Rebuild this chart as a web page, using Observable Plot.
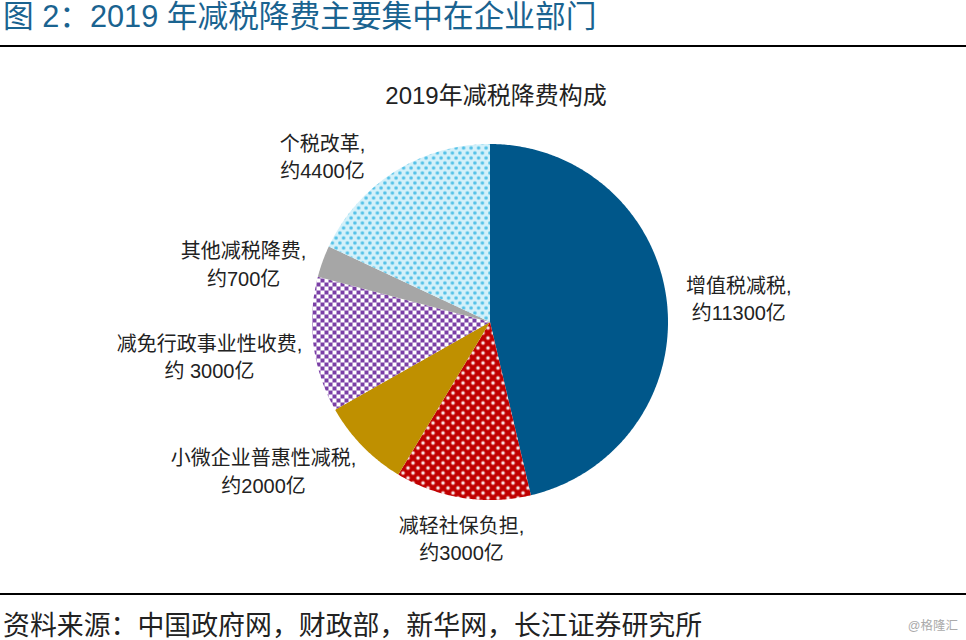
<!DOCTYPE html>
<html lang="zh">
<head>
<meta charset="utf-8">
<script src="https://cdn.jsdelivr.net/npm/d3@7"></script>
<script src="https://cdn.jsdelivr.net/npm/@observablehq/plot@0.6"></script>
<style>
  html, body { margin: 0; padding: 0; background: #fff; width: 966px; height: 640px; overflow: hidden; }
  body { font-family: "Liberation Sans", "Noto Sans CJK SC", sans-serif; position: relative; }
  #head { height: 45px; border-bottom: 2px solid #000; font-size: 30.7px; line-height: 34px; color: #1a6390; padding-left: 3px; white-space: pre; }
  #sub { height: 63px; line-height: 97px; font-size: 24px; color: #222; text-align: center; padding-left: 26px; box-sizing: border-box; width: 966px; }
  #chart { height: 483px; }
  #chart svg { display: block; }
  #foot { border-top: 2px solid #000; height: 45px; position: relative; }
  #src { position: absolute; left: 3px; top: 15px; font-size: 26.9px; line-height: 32px; color: #222; white-space: pre; }
  #wm { position: absolute; right: 8px; top: 23px; font-size: 12.5px; line-height: 16px; color: #aaa; }
</style>
</head>
<body>
<div id="head">图 2：2019 年减税降费主要集中在企业部门</div>
<div id="sub">2019年减税降费构成</div>
<div id="chart"></div>
<div id="foot"><div id="src">资料来源：中国政府网，财政部，新华网，长江证券研究所</div><div id="wm">@格隆汇</div></div>
<script>
const categories = ["增值税减税", "减轻社保负担", "小微企业普惠性减税", "减免行政事业性收费", "其他减税降费", "个税改革"];
const amounts = [11300, 3000, 2000, 3000, 700, 4400];
const amountLabels = ["约11300亿", "约3000亿", "约2000亿", "约 3000亿", "约700亿", "约4400亿"];
const fills = ["#00578a", "url(#pRed)", "#bf9000", "url(#pPurple)", "#a6a6a6", "url(#pBlue)"];
const labelDx = [72, -1, -99, -104, -79, -72];
const labelDy = [-4, 40, 24, 11, 2, -16];

const arcs = d3.pie().sort(null).value(d => d)(amounts);
const pt = (a, r = 1) => ({x: r * Math.sin(a), y: r * Math.cos(a)});

const slices = arcs.flatMap((arc, i) => {
  const steps = Math.ceil((arc.endAngle - arc.startAngle) / 0.01);
  const rim = d3.range(steps + 1).map(k => pt(arc.startAngle + (arc.endAngle - arc.startAngle) * k / steps));
  return [{x: 0, y: 0}, ...rim].map(p => ({...p, name: categories[i]}));
});
const labels = arcs.map((arc, i) => ({
  ...pt((arc.startAngle + arc.endAngle) / 2),
  text: `${categories[i]},\n${amountLabels[i]}`,
  i
}));

const defs = () => {
  const g = d3.create("svg:defs");
  g.html(`
    <pattern id="pRed" width="10" height="10" patternUnits="userSpaceOnUse">
      <rect width="10" height="10" fill="#c00000"/>
      <circle cx="2.5" cy="2.5" r="1.9" fill="#ea9a9a"/><circle cx="2.5" cy="2.5" r="1.2" fill="#fff"/>
      <circle cx="7.5" cy="7.5" r="1.9" fill="#ea9a9a"/><circle cx="7.5" cy="7.5" r="1.2" fill="#fff"/>
    </pattern>
    <pattern id="pPurple" width="8" height="8" patternUnits="userSpaceOnUse">
      <rect width="8" height="8" fill="#fff"/>
      <rect width="4" height="4" fill="#7a3fa6"/><rect x="4" y="4" width="4" height="4" fill="#7a3fa6"/>
    </pattern>
    <pattern id="pBlue" width="7.5" height="10" patternUnits="userSpaceOnUse">
      <rect width="7.5" height="10" fill="#d4f1fa"/>
      <circle cx="1.9" cy="2.5" r="1.8" fill="#54c2e8"/>
      <circle cx="5.6" cy="7.5" r="1.8" fill="#54c2e8"/>
    </pattern>`);
  return g.node();
};

const plot = Plot.plot({
  width: 966,
  height: 483,
  margin: 0,
  style: {background: "#fff"},
  x: {domain: [-1, 1], range: [311.5, 667.5], axis: null},
  y: {domain: [-1, 1], range: [389.5, 33.5], axis: null},
  color: {domain: categories, range: fills},
  marks: [
    defs,
    Plot.line(slices, {x: "x", y: "y", z: "name", fill: "name", stroke: null}),
    ...labels.map(l => Plot.text([l], {
      x: "x", y: "y", text: "text",
      dx: labelDx[l.i], dy: labelDy[l.i],
      fontSize: 20, lineHeight: 1.36, fill: "#222", textAnchor: "middle",
      fontFamily: '"Liberation Sans", "Noto Sans CJK SC", sans-serif'
    }))
  ]
});
document.getElementById("chart").append(plot);
</script>
</body>
</html>
